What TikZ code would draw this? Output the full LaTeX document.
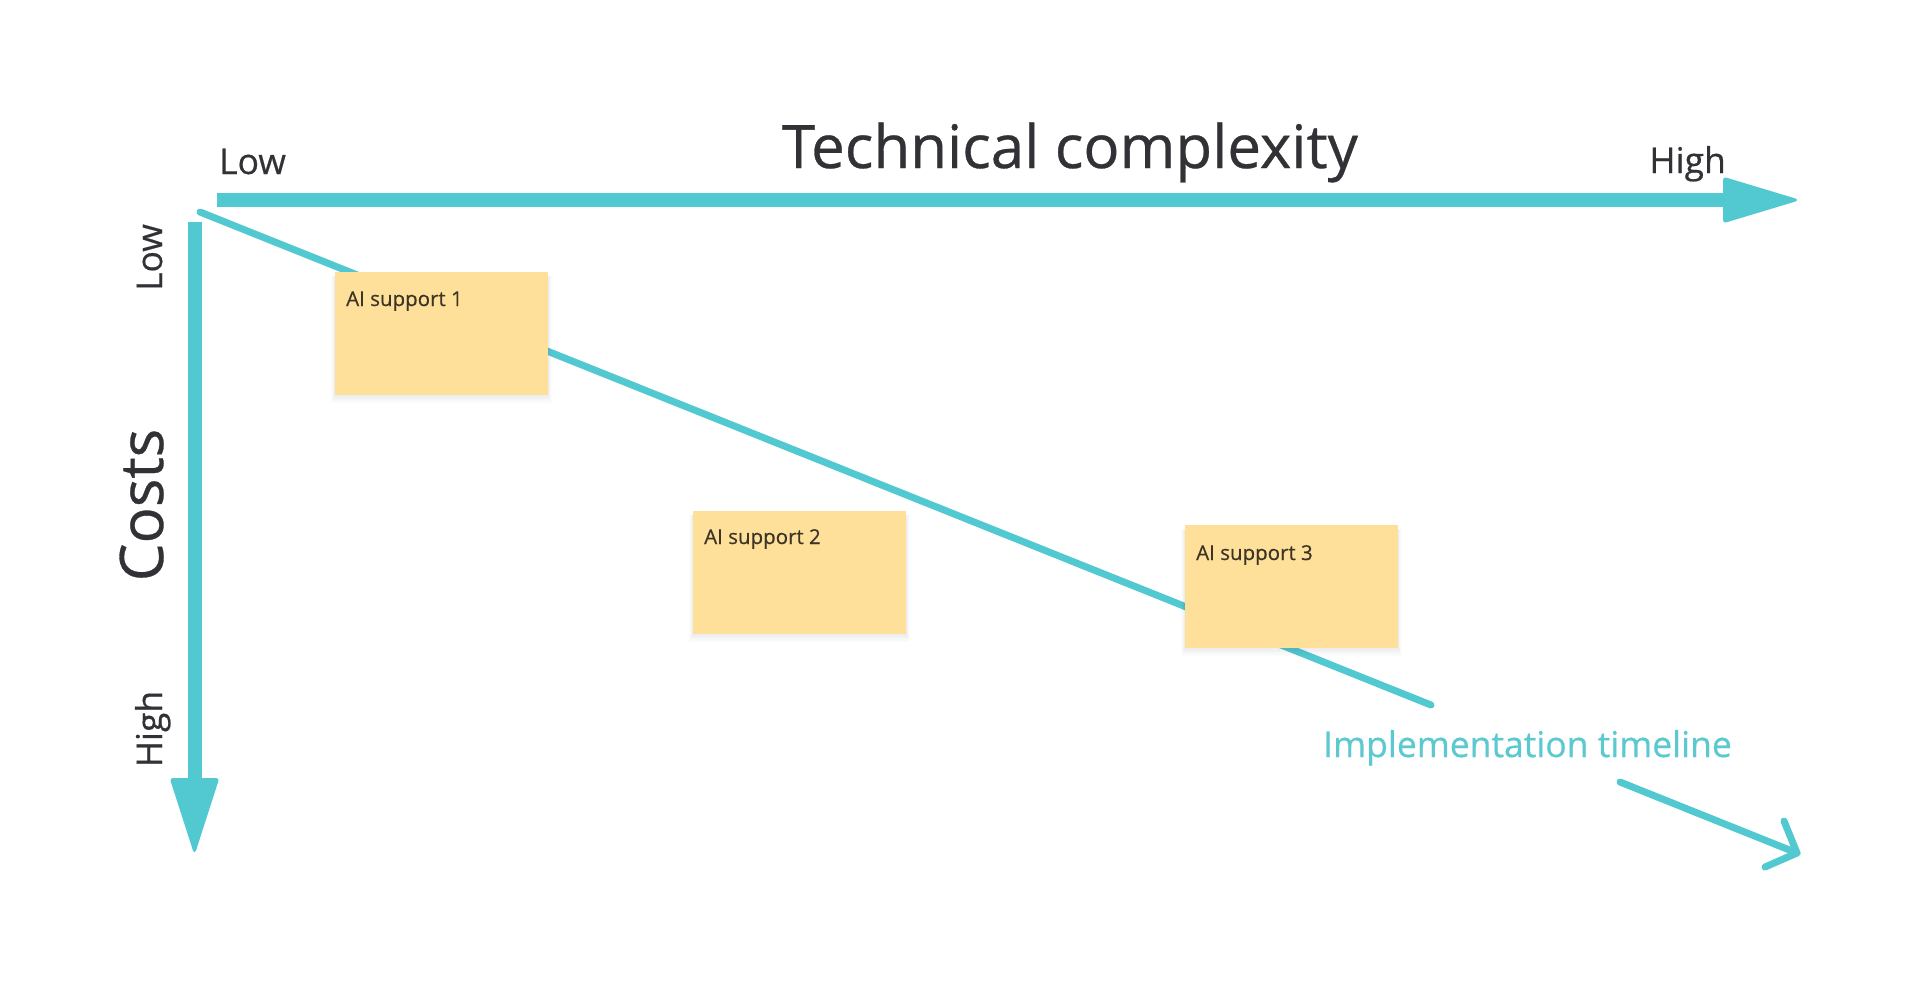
\documentclass[tikz,border=0pt]{standalone}
\usepackage{fontspec}
\setmainfont{Open Sans}[FakeBold=0.5]
\definecolor{teal}{RGB}{82,201,208}
\definecolor{tealtext}{RGB}{92,201,208}
\definecolor{ink}{RGB}{50,49,54}
\definecolor{sticky}{RGB}{255,224,154}
\definecolor{stickyink}{RGB}{60,52,36}
\tikzset{
  axisbar/.style={line width=14pt, teal, line cap=butt},
  axishead/.style={fill=teal, draw=teal, line width=2pt, line join=round, rounded corners=2pt},
  timeline/.style={line width=7pt, teal, line cap=round, line join=round},
  note/.style={fill=sticky, draw=none, minimum width=213pt, minimum height=123pt, inner sep=0pt, anchor=north west},
  notetext/.style={anchor=base west, inner sep=0pt, text=stickyink, font=\fontsize{20.5}{24}\selectfont},
  biglabel/.style={inner sep=0pt, text=ink, font=\fontsize{60}{70}\selectfont},
  midlabel/.style={inner sep=0pt, text=ink, font=\fontsize{35.5}{42}\selectfont},
}
\begin{document}
\begin{tikzpicture}[x=1pt, y=-1pt]
\fill[white] (0,0) rectangle (1920,989);
\useasboundingbox (0,0) rectangle (1920,989);

% axes
\coordinate (xs) at (217,200);
\coordinate (xb) at (1724,200);
\coordinate (xe) at (1797,200);
\draw[axisbar] (xs) -- (xb);
\filldraw[axishead] (1724,178) -- (xe) -- (1724,222) -- cycle;

\coordinate (ys) at (194.5,222);
\coordinate (yb) at (194.5,779);
\coordinate (ye) at (194.5,852);
\draw[axisbar] (ys) -- (yb);
\filldraw[axishead] (171,779) -- (ye) -- (218,779) -- cycle;

% labels
\node[biglabel, anchor=base] (title) at (1070,168) {Technical complexity};
\node[midlabel, anchor=base west] (xlow) at (219,174) {Low};
\node[midlabel, anchor=base east] (xhigh) at (1726,173) {High};
\node[biglabel, anchor=base, rotate=90] (costs) at (163,505) {Costs};
\node[midlabel, anchor=base, rotate=90] (ylow) at (162,257.5) {Low};
\node[midlabel, anchor=base, rotate=90] (yhigh) at (162,729) {High};

% implementation timeline
\coordinate (d1) at (200,212);
\coordinate (d2) at (1431,705);
\draw[timeline] (d1) -- (d2);
\coordinate (t1) at (1620,782);
\coordinate (t2) at (1797,853);
\coordinate (b1) at (1784,821);
\coordinate (b2) at (1765,867);
\draw[timeline] (t1) -- (t2);
\draw[timeline] (b1) -- (t2) -- (b2);
\node[midlabel, anchor=base west, text=tealtext] (tl) at (1323,757) {Implementation timeline};

% sticky notes with soft shadows
\foreach \x/\y in {335/272, 693/511, 1185/525}{
  \foreach \i in {1,...,6}{
    \fill[black, opacity=0.012] (\x-\i*0.6, \y+4) rectangle (\x+213+\i*0.6, \y+123+\i*1.3);
  }
}
\node[note] (n1) at (335,272) {};
\node[note] (n2) at (693,511) {};
\node[note] (n3) at (1185,525) {};
\node[notetext] (n1t) at ([xshift=11pt, yshift=-34pt]n1.north west) {AI support 1};
\node[notetext] (n2t) at ([xshift=11pt, yshift=-33pt]n2.north west) {AI support 2};
\node[notetext] (n3t) at ([xshift=11pt, yshift=-35pt]n3.north west) {AI support 3};
\end{tikzpicture}
\end{document}
